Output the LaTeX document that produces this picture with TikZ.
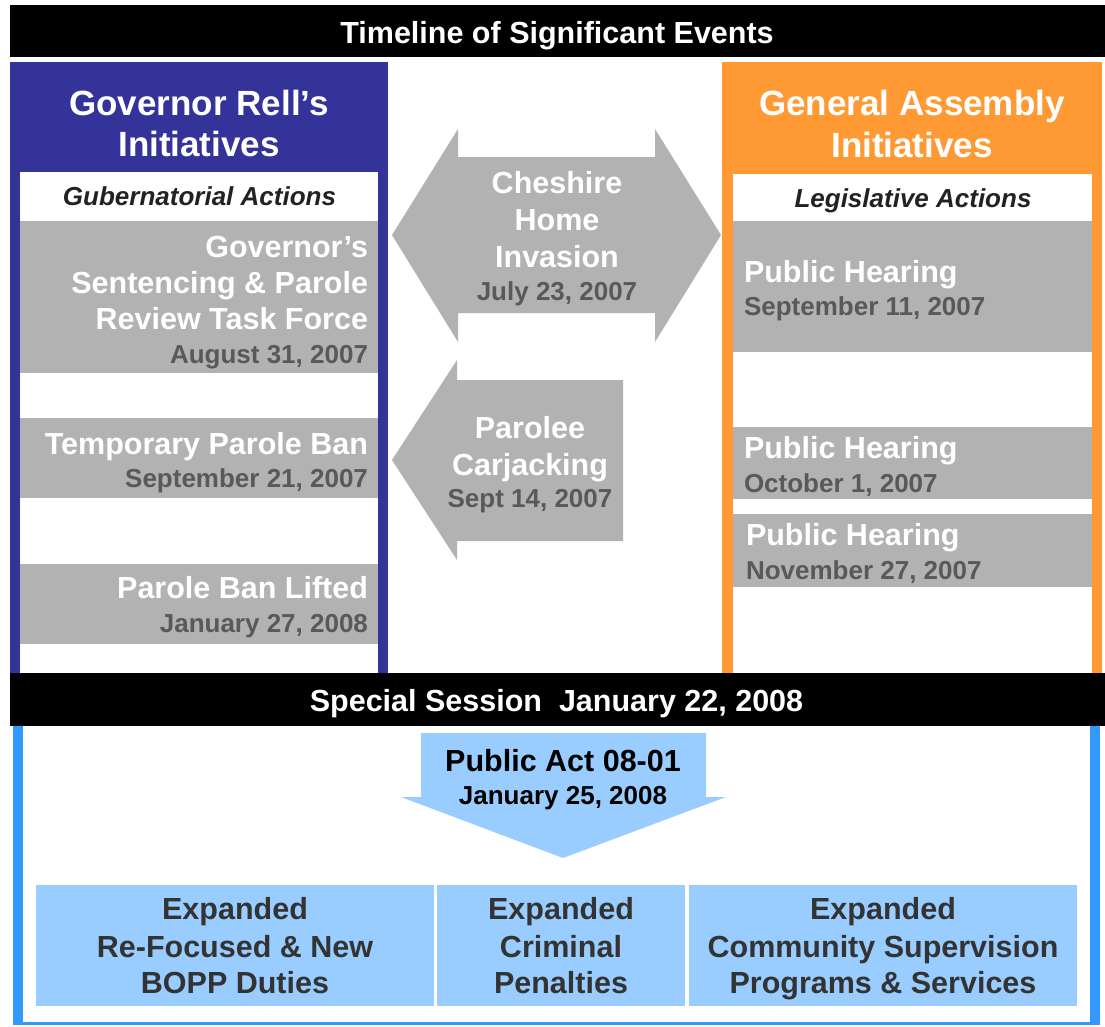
\documentclass[tikz,border=0pt]{standalone}
\usepackage{fontspec}
\setmainfont{Liberation Sans}
\definecolor{govblue}{HTML}{333399}
\definecolor{gaorange}{HTML}{FF9933}
\definecolor{evgray}{HTML}{B2B2B2}
\definecolor{dategray}{HTML}{595959}
\definecolor{sessblue}{HTML}{3399FF}
\definecolor{lightblue}{HTML}{99CCFF}
\definecolor{boxtext}{HTML}{333333}
\definecolor{subblack}{HTML}{222222}
\begin{document}
\begin{tikzpicture}[x=1pt,y=-1pt,
  txt/.style={inner sep=0pt, outer sep=0pt},
  bigw/.style={txt, font=\fontsize{30.5}{36}\selectfont\bfseries, text=white},
  datet/.style={txt, font=\fontsize{26}{30}\selectfont\bfseries, text=dategray},
  headt/.style={txt, font=\fontsize{35}{41}\selectfont\bfseries, text=white},
  subt/.style={txt, font=\fontsize{26}{30}\selectfont\bfseries\itshape, text=subblack},
  bott/.style={txt, font=\fontsize{30.5}{36}\selectfont\bfseries, text=boxtext},
  actt/.style={txt, font=\fontsize{30.5}{36}\selectfont\bfseries, text=black},
  actd/.style={txt, font=\fontsize{26}{30}\selectfont\bfseries, text=black},
  graybox/.style={fill=evgray},
  bluebox/.style={fill=lightblue},
]
\useasboundingbox (0,0) rectangle (1105,1026);
\fill[white] (0,0) rectangle (1105,1026);

% ---- top title bar
\fill[black] (10,5) rectangle (1105,57);
\node[bigw, anchor=base] (title) at (557,43) {Timeline of Significant Events};

% ---- left panel (Governor)
\fill[govblue] (10,62) rectangle (388,673);
\fill[white] (20,172) rectangle (378,673);
\node[headt, anchor=base] (gov1) at (199,115) {Governor Rell’s};
\node[headt, anchor=base] (gov2) at (199,156) {Initiatives};
\node[subt, anchor=base] (govsub) at (199.5,205) {Gubernatorial Actions};
\fill[graybox] (20,221) rectangle (378,373);
\fill[graybox] (20,418) rectangle (378,498);
\fill[graybox] (20,564) rectangle (378,644);
\node[bigw, anchor=base east] (tf1) at (368,257) {Governor’s};
\node[bigw, anchor=base east] (tf2) at (368,293) {Sentencing \& Parole};
\node[bigw, anchor=base east] (tf3) at (368,329) {Review Task Force};
\node[datet, anchor=base east] (tfd) at (368,363) {August 31, 2007};
\node[bigw, anchor=base east] (tpb) at (368,454) {Temporary Parole Ban};
\node[datet, anchor=base east] (tpbd) at (368,487) {September 21, 2007};
\node[bigw, anchor=base east] (pbl) at (368,598) {Parole Ban Lifted};
\node[datet, anchor=base east] (pbld) at (368,632) {January 27, 2008};

% ---- right panel (General Assembly)
\fill[gaorange] (722,62) rectangle (1102,673);
\fill[white] (733,174) rectangle (1092,673);
\node[headt, anchor=base] (ga1) at (912,115) {General Assembly};
\node[headt, anchor=base] (ga2) at (912,157) {Initiatives};
\node[subt, anchor=base] (gasub) at (913,207) {Legislative Actions};
\fill[graybox] (733,221) rectangle (1092,352);
\fill[graybox] (733,427) rectangle (1092,499);
\fill[graybox] (733,514) rectangle (1092,587);
\node[bigw, anchor=base west] (ph1) at (744,282) {Public Hearing};
\node[datet, anchor=base west] (ph1d) at (744,315) {September 11, 2007};
\node[bigw, anchor=base west] (ph2) at (744,458) {Public Hearing};
\node[datet, anchor=base west] (ph2d) at (744,492) {October 1, 2007};
\node[bigw, anchor=base west] (ph3) at (746,545) {Public Hearing};
\node[datet, anchor=base west] (ph3d) at (746,579) {November 27, 2007};

% ---- middle arrows
\fill[graybox] (392,235) -- (458,129) -- (458,157) -- (655,157) -- (655,129)
  -- (721,235) -- (655,342) -- (655,313) -- (458,313) -- (458,342) -- cycle;
\node[bigw, anchor=base] (ch1) at (557,193) {Cheshire};
\node[bigw, anchor=base] (ch2) at (557,230) {Home};
\node[bigw, anchor=base] (ch3) at (557,267) {Invasion};
\node[datet, anchor=base] (chd) at (557,300) {July 23, 2007};

\fill[graybox] (392,460) -- (457,360) -- (457,380) -- (623,380) -- (623,541)
  -- (457,541) -- (457,560) -- cycle;
\node[bigw, anchor=base] (pc1) at (530,438) {Parolee};
\node[bigw, anchor=base] (pc2) at (530,475) {Carjacking};
\node[datet, anchor=base] (pcd) at (530,507) {Sept 14, 2007};

% ---- bottom section
\fill[sessblue] (13,725) rectangle (1100,1025);
\fill[white] (23,725) rectangle (1090,1022);
\fill[black] (10,673) rectangle (1105,726);
\node[bigw, anchor=base] (sess) at (556.5,711) {Special Session\ \ January 22, 2008};

\fill[bluebox] (421,733) -- (706,733) -- (706,797) -- (726,797) -- (563,858)
  -- (401,797) -- (421,797) -- cycle;
\node[actt, anchor=base] (pa1) at (563,771) {Public Act 08-01};
\node[actd, anchor=base] (pa2) at (563,804) {January 25, 2008};

\fill[bluebox] (36,885) rectangle (434,1006);
\fill[bluebox] (437,885) rectangle (685,1006);
\fill[bluebox] (689,885) rectangle (1077,1006);
\node[bott, anchor=base] (b1a) at (235,919) {Expanded};
\node[bott, anchor=base] (b1b) at (235,957) {Re-Focused \& New};
\node[bott, anchor=base] (b1c) at (235,993) {BOPP Duties};
\node[bott, anchor=base] (b2a) at (561,919) {Expanded};
\node[bott, anchor=base] (b2b) at (561,957) {Criminal};
\node[bott, anchor=base] (b2c) at (561,993) {Penalties};
\node[bott, anchor=base] (b3a) at (883,919) {Expanded};
\node[bott, anchor=base] (b3b) at (883,957) {Community Supervision};
\node[bott, anchor=base] (b3c) at (883,993) {Programs \& Services};
\end{tikzpicture}
\end{document}
